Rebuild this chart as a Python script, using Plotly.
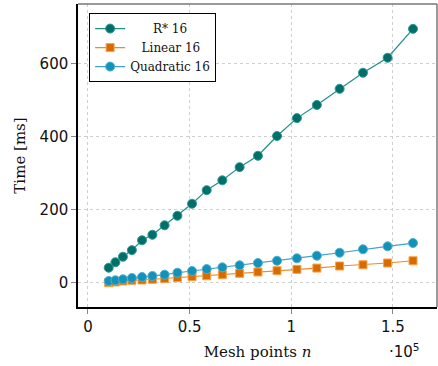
import plotly.graph_objects as go

# Mesh points n
mesh_points = [10200, 13500, 17200, 21600, 26600, 31700, 37700, 44000, 51200, 58400,
               66100, 74600, 83600, 93000, 102800, 112600, 123800, 135300, 147400, 159900]
# Times in ms
rstar_16 = [41, 56, 71, 89, 116, 131, 157, 183, 216, 253,
            280, 316, 347, 401, 450, 486, 530, 574, 615, 694]
linear_16 = [0, 2, 4.6, 6.6, 7.4, 9.3, 11, 13.7, 16.4, 19,
             21.9, 25.7, 29.3, 32.8, 36.6, 40, 45.7, 49, 53.9, 60]
quadratic_16 = [4.6, 6.6, 9.3, 12.9, 15.6, 18.4, 21.9, 27.3, 32, 37.3,
                42, 47.6, 53.8, 60, 66.6, 73.8, 82, 91.3, 99.5, 108.5]
series_names = ["R* 16", "Linear 16", "Quadratic 16"]
x_tick_vals = [0, 0.5, 1, 1.5]
x_tick_text = ["0", "0.5", "1", "1.5"]
y_tick_vals = [0, 200, 400, 600]

x_scaled = [v / 1e5 for v in mesh_points]

NB = "\u00a0"
legend_labels = [NB * 6 + series_names[0], NB * 3 + series_names[1], series_names[2]]

styles = [
    dict(symbol="circle", fill="#006e69", edge="#2f9a95", line="#1f8f8a", size=9),
    dict(symbol="square", fill="#d76b00", edge="#f7a24a", line="#f08a22", size=8),
    dict(symbol="circle", fill="#1491b9", edge="#4fb0cf", line="#3fa3c6", size=9),
]
series = [rstar_16, linear_16, quadratic_16]

fig = go.Figure()
for label, ys, st in zip(legend_labels, series, styles):
    fig.add_trace(go.Scatter(
        x=x_scaled, y=ys, mode="lines+markers", name=label,
        line=dict(color=st["line"], width=1.2),
        marker=dict(symbol=st["symbol"], color=st["fill"], size=st["size"],
                    line=dict(color=st["edge"], width=1)),
    ))

axis_font = dict(family="DejaVu Sans", size=15, color="#111")
title_font = dict(family="DejaVu Serif", size=15, color="#111")

fig.update_layout(
    width=438, height=366,
    margin=dict(l=78, r=1, t=4, b=59),
    paper_bgcolor="white", plot_bgcolor="white",
    showlegend=True,
    legend=dict(x=0.031, y=0.97, xanchor="left", yanchor="top",
                bordercolor="black", borderwidth=1, bgcolor="white",
                font=dict(family="DejaVu Serif", size=12, color="#111"),
                tracegroupgap=0, itemwidth=30),
    xaxis=dict(range=[-0.049, 1.717], tickvals=x_tick_vals, ticktext=x_tick_text,
               showgrid=True, gridcolor="#cfcfcf", griddash="dot", gridwidth=1,
               zeroline=False, showline=True, linecolor="black", linewidth=1.5,
               ticks="outside", ticklen=5, tickcolor="#888", tickfont=axis_font,
               title=dict(text="Mesh points <i>n</i>", font=title_font, standoff=12)),
    yaxis=dict(range=[-66.4, 762], tickvals=y_tick_vals,
               showgrid=True, gridcolor="#cfcfcf", griddash="dot", gridwidth=1,
               zeroline=False, showline=True, linecolor="black", linewidth=1.5,
               ticks="outside", ticklen=5, tickcolor="#888", tickfont=axis_font,
               title=dict(text="Time [ms]", font=title_font, standoff=10)),
)
# top and right frame
fig.add_shape(type="line", xref="paper", yref="paper", x0=0, x1=1, y0=1, y1=1,
              line=dict(color="#777", width=1.5))
fig.add_shape(type="line", xref="paper", yref="paper", x0=1, x1=1, y0=0, y1=1,
              line=dict(color="#777", width=1.5))
fig.add_annotation(xref="paper", yref="paper", x=0.91, y=-0.145, xanchor="center",
                   yanchor="middle", showarrow=False, text="·10<sup>5</sup>",
                   font=dict(family="DejaVu Sans", size=15, color="#111"))

fig.write_html("out.html")
